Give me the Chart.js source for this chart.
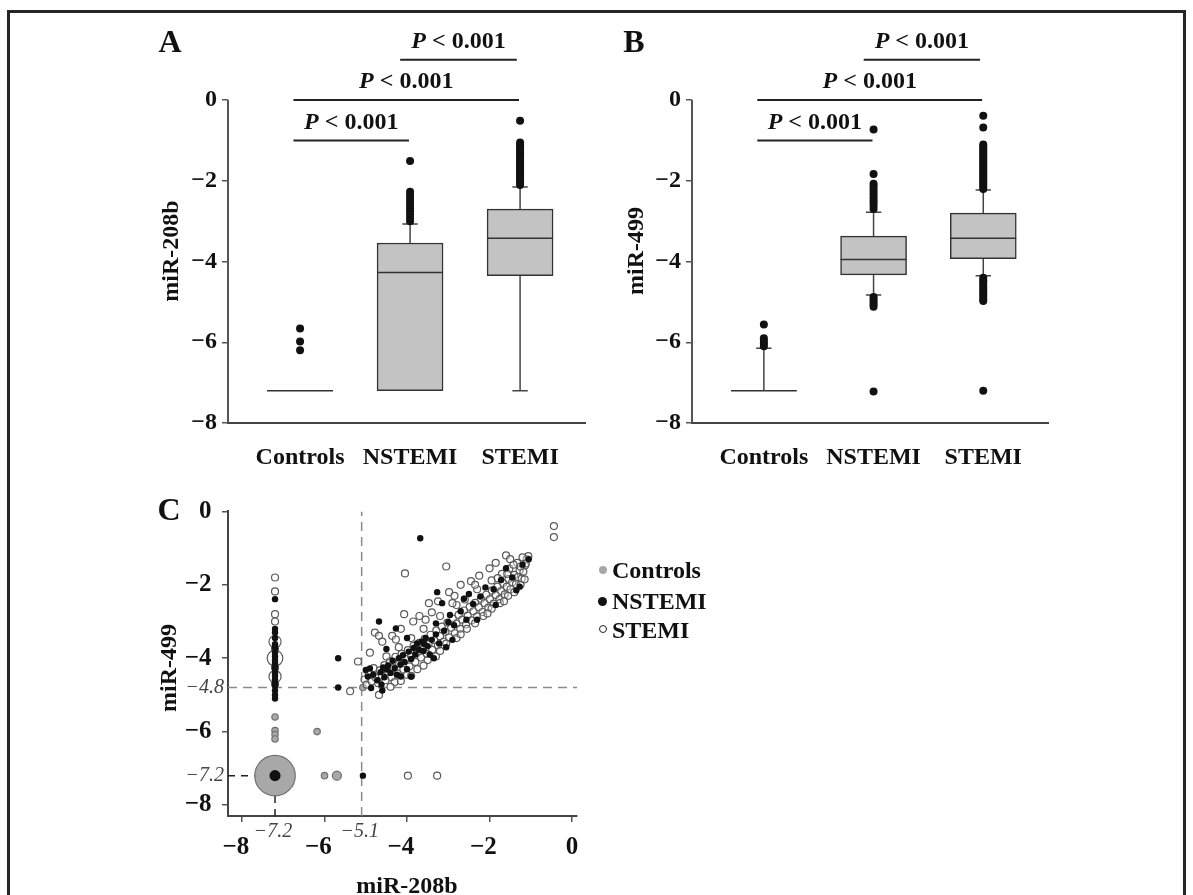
<!DOCTYPE html>
<html>
<head>
<meta charset="utf-8">
<script src="https://cdn.jsdelivr.net/npm/chart.js@4/dist/chart.umd.min.js"></script>
<style>
  html,body{margin:0;padding:0;background:#fff;}
  body{width:1193px;height:895px;overflow:hidden;position:relative;font-family:"Liberation Serif","Times New Roman",serif;color:#111;}
  .frame{position:absolute;left:7px;top:10px;width:1173px;height:1000px;border:3px solid #262626;border-bottom:none;}
  canvas{position:absolute;}
  .t{position:absolute;font-weight:bold;line-height:1;white-space:nowrap;transform:translate(-50%,-50%);}
  .rot{transform:translate(-50%,-50%) rotate(-90deg);}
  .leg{position:absolute;font-weight:bold;font-size:24px;line-height:1;white-space:nowrap;transform:translateY(-50%);}
  .mk{position:absolute;border-radius:50%;box-sizing:border-box;}
</style>
</head>
<body>
<div class="frame"></div>

<canvas id="cA" width="460" height="500" style="left:140px;top:0px"></canvas>
<canvas id="cB" width="460" height="500" style="left:604px;top:0px"></canvas>
<canvas id="cC" width="460" height="405" style="left:140px;top:490px"></canvas>

<div class="t" style="left:170px;top:41px;font-size:32px">A</div>
<div class="t" style="left:634px;top:41px;font-size:32px">B</div>
<div class="t" style="left:169px;top:509px;font-size:32px">C</div>

<div class="t rot" style="left:170px;top:251px;font-size:24px">miR-208b</div>
<div class="t rot" style="left:635px;top:251px;font-size:24px">miR-499</div>
<div class="t rot" style="left:168px;top:668px;font-size:24px">miR-499</div>
<div class="t" style="left:407px;top:885px;font-size:24px">miR-208b</div>

<div class="mk" style="left:599px;top:566px;width:8px;height:8px;background:#a8a8a8;"></div>
<div class="leg" style="left:612px;top:570px">Controls</div>
<div class="mk" style="left:598px;top:597px;width:9px;height:9px;background:#111;"></div>
<div class="leg" style="left:612px;top:601px">NSTEMI</div>
<div class="mk" style="left:599px;top:625px;width:8px;height:8px;border:1.5px solid #222;background:#fff;"></div>
<div class="leg" style="left:612px;top:630px">STEMI</div>

<script>
// ================= DATA =================
const groups = ["Controls", "NSTEMI", "STEMI"];
const groupPos = [1, 2, 3];
const boxYTicks = [0, -2, -4, -6, -8];

// Significance brackets (shared layout in A and B)
const sigFrom  = [0.94, 0.94, 1.91];
const sigTo    = [1.99, 2.99, 2.97];
const sigLevel = [-1.0, 0.0, 1.0];
const sigLabel = [" < 0.001", " < 0.001", " < 0.001"];

// Panel A: miR-208b
const a_q1          = [-7.2, -7.2,  -4.35];
const a_median      = [-7.2, -4.27, -3.42];
const a_q3          = [-7.2, -3.54, -2.70];
const a_whiskerLow  = [-7.2, -7.2,  -7.2];
const a_whiskerHigh = [-7.2, -3.07, -2.15];
const a_outControls = [-5.66, -5.98, -6.2];
const a_outNSTEMI   = [-1.51, -2.27, -2.35, -2.44, -2.52, -2.6, -2.68, -2.76, -2.84, -2.92, -3.0];
const a_outSTEMI    = [-0.51, -1.05, -1.1, -1.15, -1.2, -1.25, -1.3, -1.35, -1.4, -1.45, -1.5, -1.55,
                       -1.6, -1.65, -1.7, -1.75, -1.8, -1.85, -1.9, -1.95, -2.0, -2.05, -2.1];

// Panel B: miR-499
const b_q1          = [-7.2,  -4.33, -3.93];
const b_median      = [-7.2,  -3.95, -3.42];
const b_q3          = [-7.2,  -3.37, -2.80];
const b_whiskerLow  = [-7.2,  -4.83, -4.35];
const b_whiskerHigh = [-6.15, -2.78, -2.23];
const b_outControls = [-5.56, -5.9, -5.97, -6.03, -6.1];
const b_outNSTEMI   = [-0.73, -1.83, -2.07, -2.13, -2.2, -2.27, -2.34, -2.41, -2.48, -2.55, -2.62, -2.7,
                       -4.88, -4.94, -5.0, -5.06, -5.12, -7.22];
const b_outSTEMI    = [-0.39, -0.68, -1.1, -1.15, -1.2, -1.25, -1.3, -1.35, -1.4, -1.45, -1.5, -1.55, -1.6,
                       -1.65, -1.7, -1.75, -1.8, -1.85, -1.9, -1.95, -2.0, -2.05, -2.1, -2.15, -2.2,
                       -4.4, -4.46, -4.52, -4.58, -4.64, -4.7, -4.76, -4.82, -4.88, -4.94, -4.98, -7.2];

// Panel C: scatter miR-208b (x) vs miR-499 (y)
const cXTicks = [-8, -6, -4, -2, 0];
const cYTicks = [0, -2, -4, -4.8, -6, -7.2, -8];
const cCutX = -5.1;
const cCutY = -4.8;
const cFloor = -7.2;
const cXItalic = [-7.2, -5.1];
const cYItalic = [-4.8, -7.2];

const cControls  = [[-7.2,-5.6],[-7.2,-5.97],[-7.2,-6.08],[-7.2,-6.2],[-6.18,-6.0],[-6.0,-7.2],[-5.07,-4.8],[-5.7,-7.2],[-7.2,-7.2]];
const cControlsN = [1,1,1,1,1,1,1,2,40];

const cNstemi = [
  [-7.2,-2.39],[-7.2,-3.2],[-7.2,-3.3],[-7.2,-3.45],[-7.2,-3.62],[-7.2,-3.72],[-7.2,-3.85],[-7.2,-3.95],
  [-7.2,-4.05],[-7.2,-4.12],[-7.2,-4.22],[-7.2,-4.3],[-7.2,-4.4],[-7.2,-4.48],[-7.2,-4.58],[-7.2,-4.66],
  [-7.2,-4.75],[-7.2,-4.88],[-7.2,-5.0],[-7.2,-5.1],[-7.2,-7.2],
  [-5.67,-4.0],[-5.67,-4.8],[-5.07,-7.2],[-3.68,-0.73],[-4.68,-3.0],[-4.27,-3.19],[-3.27,-2.2],[-3.15,-2.5],
  [-1.45,-1.8],[-1.27,-2.05],[-5.0,-4.32],[-4.95,-4.5],[-4.9,-4.28],[-4.87,-4.81],[-4.82,-4.45],[-4.72,-4.6],
  [-4.64,-4.38],[-4.58,-4.25],[-4.55,-4.52],[-4.49,-4.31],[-4.46,-4.2],[-4.4,-4.4],[-4.35,-4.07],[-4.3,-4.27],
  [-4.24,-4.45],[-4.2,-4.0],[-4.16,-4.17],[-4.1,-3.92],[-4.06,-4.1],[-4.0,-4.3],[-3.96,-3.82],[-3.9,-4.02],
  [-3.84,-3.72],[-3.8,-3.9],[-3.76,-3.6],[-3.71,-3.77],[-3.65,-3.55],[-3.6,-3.8],[-3.55,-3.45],[-3.5,-3.67],
  [-3.45,-3.9],[-3.4,-3.5],[-3.3,-3.35],[-3.22,-3.6],[-3.1,-3.25],[-3.0,-3.02],[-2.96,-2.82],[-2.86,-3.1],
  [-2.7,-2.72],[-2.56,-2.95],[-2.4,-2.52],[-2.22,-2.32],[-2.1,-2.07],[-1.9,-2.12],[-1.72,-1.87],[-1.2,-1.45],
  [-4.62,-4.72],[-4.15,-4.5],[-3.58,-3.62],[-2.62,-2.38],
  [-4.5,-3.75],[-4.0,-3.45],[-3.3,-3.05],[-2.5,-2.25],[-1.6,-1.55],[-3.9,-4.5],[-3.35,-4.0],[-2.9,-3.5],
  [-2.3,-2.95],[-1.85,-2.55],[-1.35,-2.15],[-4.6,-4.88],[-3.05,-3.7],[-1.05,-1.3]
];
const cNstemiN = [1,1,1,1,1,1,1,1,1,1,1,1,1,1,1,1,1,1,1,1,3];

const cStemi = [
  [-7.2,-1.8],[-7.2,-2.18],[-7.2,-2.8],[-7.2,-3.0],[-7.2,-3.55],[-7.2,-3.75],[-7.2,-4.0],[-7.2,-4.25],[-7.2,-4.5],[-7.2,-4.7],
  [-5.19,-4.09],[-5.38,-4.9],[-4.68,-5.0],[-3.98,-7.2],[-3.27,-7.2],[-0.44,-0.4],[-0.44,-0.7],[-4.05,-1.69],
  [-3.05,-1.5],[-2.98,-2.2],[-3.47,-2.5],[-4.07,-2.8],[-4.78,-3.3],[-4.68,-3.39],[-4.36,-3.39],[-4.27,-3.49],
  [-5.03,-4.58],[-4.98,-4.72],[-4.93,-4.41],[-4.86,-4.63],[-4.81,-4.27],[-4.77,-4.52],[-4.7,-4.68],[-4.66,-4.33],
  [-4.61,-4.47],[-4.55,-4.19],[-4.52,-4.6],[-4.47,-4.36],[-4.41,-4.08],[-4.38,-4.52],[-4.33,-4.27],[-4.28,-3.96],
  [-4.22,-4.42],[-4.19,-4.15],[-4.13,-3.88],[-4.09,-4.31],[-4.04,-4.02],[-3.98,-3.78],[-3.94,-4.22],[-3.9,-3.95],
  [-3.84,-3.66],[-3.8,-4.1],[-3.76,-3.86],[-3.7,-3.58],[-3.66,-3.98],[-3.61,-3.74],[-3.57,-3.47],[-3.52,-3.88],
  [-3.48,-3.62],[-3.43,-3.36],[-3.39,-3.77],[-3.34,-3.51],[-3.29,-3.24],[-3.25,-3.65],[-3.2,-3.4],[-3.16,-3.14],
  [-3.11,-3.55],[-3.07,-3.28],[-3.02,-3.03],[-2.98,-3.43],[-2.93,-3.17],[-2.89,-2.92],[-2.84,-3.32],[-2.8,-3.06],
  [-2.75,-2.82],[-2.71,-3.2],[-2.66,-2.95],[-2.62,-2.7],[-2.57,-3.08],[-2.53,-2.84],[-2.48,-2.6],[-2.44,-2.97],
  [-2.39,-2.72],[-2.35,-2.49],[-2.3,-2.86],[-2.26,-2.61],[-2.21,-2.38],[-2.17,-2.74],[-2.12,-2.5],[-2.08,-2.27],
  [-2.03,-2.62],[-1.99,-2.39],[-1.94,-2.16],[-1.9,-2.51],[-1.85,-2.28],[-1.81,-2.05],[-1.76,-2.39],[-1.72,-2.17],
  [-1.67,-1.95],[-1.63,-2.26],[-1.58,-2.05],[-1.54,-1.84],[-1.49,-2.12],[-1.45,-1.93],[-1.4,-1.73],[-1.36,-1.98],
  [-1.31,-1.79],[-1.27,-1.6],[-1.22,-1.83],[-1.18,-1.64],[-1.14,-1.47],[-1.1,-1.3],[-1.06,-1.22],[-1.2,-1.25],
  [-1.33,-1.4],[-1.52,-1.56],[-1.7,-1.7],[-1.95,-1.88],[-2.3,-2.12],[-2.6,-2.4],[-2.8,-2.55],[-3.2,-2.85],
  [-3.6,-3.2],[-3.9,-3.45],[-4.2,-3.7],[-4.5,-3.95],[-1.12,-1.42],[-1.25,-1.5],[-1.42,-1.45],[-1.57,-1.7],[-1.8,-1.82],
  [-4.9,-3.85],[-4.6,-3.55],[-4.15,-3.2],[-3.85,-3.0],[-3.7,-2.85],[-3.4,-2.75],[-3.25,-2.45],[-2.85,-2.3],
  [-2.7,-2.0],[-2.45,-1.9],[-2.25,-1.75],[-2.0,-1.55],[-1.85,-1.4],[-1.6,-1.2],[-1.5,-1.3],[-3.55,-2.95],
  [-2.35,-2.0],[-2.9,-2.5],[-4.3,-4.65],[-4.0,-4.45],[-3.75,-4.3],[-3.5,-4.05],[-3.3,-3.95],[-3.05,-3.6],
  [-2.8,-3.45],[-2.55,-3.2],[-2.35,-3.05],[-2.15,-2.85],[-1.95,-2.65],[-1.75,-2.5],[-1.55,-2.3],[-1.4,-2.2],
  [-1.25,-2.0],[-1.15,-1.85],[-1.65,-2.45],[-2.05,-2.78],[-2.7,-3.35],[-3.2,-3.8],[-3.6,-4.2],[-4.4,-4.78],
  [-4.15,-4.62],[-3.9,-4.48]
];
const cStemiN = [1,1,1,1,3,1,5,1,3,1];

// ================= HELPERS =================
const SERIF = '"Liberation Serif", "Times New Roman", serif';
const MINUS = '\u2212';
const NB2 = '\u00a0\u00a0';
function fmt(v){ return v < 0 ? MINUS + String(Math.abs(v)) : String(v); }

function sigTextPlugin(){
  return {
    id: 'sigText',
    afterDatasetsDraw(chart){
      const {ctx} = chart; const x = chart.scales.x, y = chart.scales.y;
      ctx.save();
      ctx.fillStyle = '#111'; ctx.textBaseline = 'middle'; ctx.textAlign = 'left';
      const f1 = 'italic bold 24px ' + SERIF, f2 = 'bold 24px ' + SERIF;
      sigLevel.forEach((lv, k) => {
        const cx = (x.getPixelForValue(sigFrom[k]) + x.getPixelForValue(sigTo[k])) / 2;
        const cy = y.getPixelForValue(lv) - 18;
        ctx.font = f1; const w1 = ctx.measureText('P').width;
        ctx.font = f2; const w2 = ctx.measureText(sigLabel[k]).width;
        const sx = cx - (w1 + w2) / 2;
        ctx.font = f1; ctx.fillText('P', sx, cy);
        ctx.font = f2; ctx.fillText(sigLabel[k], sx + w1, cy);
      });
      ctx.restore();
    }
  };
}

function boxChart(id, d, padRight){
  const xMin = 0.345, xMax = 3.59, yMin = -8, yMax = 2;
  const half = 0.3, cap = 0.07;
  const boxes = [], medians = [], whisk = [], outs = [];
  groupPos.forEach((p, i) => {
    if (d.q3[i] > d.q1[i]) boxes.push({x: p, y: [d.q1[i], d.q3[i]]});
    medians.push({x: p - half, y: d.median[i]}, {x: p + half, y: d.median[i]}, {x: p, y: null});
    if (d.whiskerHigh[i] > d.q3[i]) {
      whisk.push({x: p, y: d.q3[i]}, {x: p, y: d.whiskerHigh[i]}, {x: p, y: null},
                 {x: p - cap, y: d.whiskerHigh[i]}, {x: p + cap, y: d.whiskerHigh[i]}, {x: p, y: null});
    }
    if (d.whiskerLow[i] < d.q1[i]) {
      whisk.push({x: p, y: d.q1[i]}, {x: p, y: d.whiskerLow[i]}, {x: p, y: null},
                 {x: p - cap, y: d.whiskerLow[i]}, {x: p + cap, y: d.whiskerLow[i]}, {x: p, y: null});
    }
    d.outliers[i].forEach(v => outs.push({x: p, y: v}));
  });
  const sig = [];
  sigLevel.forEach((lv, k) => sig.push({x: sigFrom[k], y: lv}, {x: sigTo[k], y: lv}, {x: sigFrom[k], y: null}));
  const axisPts = [{x: xMin, y: Math.max(...boxYTicks)}, {x: xMin, y: Math.min(...boxYTicks)}];

  new Chart(document.getElementById(id), {
    type: 'scatter',
    data: { datasets: [
      {type: 'scatter', data: outs, pointRadius: 4, pointBackgroundColor: '#111', pointBorderWidth: 0, clip: false},
      {type: 'line', data: medians, borderColor: '#333', borderWidth: 1.5, pointRadius: 0, spanGaps: false, clip: false},
      {type: 'line', data: whisk, borderColor: '#444', borderWidth: 1.5, pointRadius: 0, spanGaps: false, clip: false},
      {type: 'line', data: sig, borderColor: '#222', borderWidth: 2, pointRadius: 0, spanGaps: false, clip: false},
      {type: 'line', data: axisPts, borderColor: '#555', borderWidth: 2, pointRadius: 0, clip: false},
      {type: 'bar', data: boxes, backgroundColor: '#c3c3c3', borderColor: '#333', borderWidth: 1.5,
       borderSkipped: false, barThickness: 66, grouped: false}
    ]},
    options: {
      responsive: false, animation: false, events: [],
      layout: {padding: {left: 0, top: 13, right: padRight, bottom: 0}},
      plugins: {legend: {display: false}, tooltip: {enabled: false}},
      scales: {
        x: {type: 'linear', min: xMin, max: xMax, offset: false,
            grid: {display: false, drawTicks: false},
            border: {display: true, color: '#444', width: 2},
            afterBuildTicks: s => { s.ticks = groupPos.map(v => ({value: v})); },
            ticks: {callback: v => groups[groupPos.indexOf(v)], font: {family: SERIF, size: 24, weight: 'bold'},
                    color: '#111', padding: 20, maxRotation: 0, autoSkip: false},
            afterFit: s => { s.height = 77; }},
        y: {type: 'linear', min: yMin, max: yMax,
            grid: {display: true, drawOnChartArea: false, drawTicks: true, tickLength: 6, color: '#555', lineWidth: 1.5},
            border: {display: false},
            afterBuildTicks: s => { s.ticks = boxYTicks.map(v => ({value: v})); },
            ticks: {callback: v => fmt(v), font: {family: SERIF, size: 24, weight: 'bold'}, color: '#111', padding: 5, autoSkip: false},
            afterFit: s => { s.width = 88; }}
      }
    },
    plugins: [sigTextPlugin()]
  });
}

boxChart('cA', {q1: a_q1, median: a_median, q3: a_q3, whiskerLow: a_whiskerLow, whiskerHigh: a_whiskerHigh,
                outliers: [a_outControls, a_outNSTEMI, a_outSTEMI]}, 15);
boxChart('cB', {q1: b_q1, median: b_median, q3: b_q3, whiskerLow: b_whiskerLow, whiskerHigh: b_whiskerHigh,
                outliers: [b_outControls, b_outNSTEMI, b_outSTEMI]}, 16);

// ================= PANEL C =================
(function(){
  const xMin = -8.34, xMax = 0.12, yMin = -8.3, yMax = 0;
  const toPts = (arr, counts) => arr.map((p, i) => ({x: p[0], y: p[1], n: (counts && counts[i]) || 1}));
  const rad = base => c => base * Math.sqrt((c.raw && c.raw.n) || 1);
  const italicSet = new Set(cYItalic);

  const xItalicPlugin = {
    id: 'xItalic',
    afterDraw(chart){
      const {ctx} = chart; const x = chart.scales.x;
      ctx.save();
      ctx.font = 'italic 20px ' + SERIF; ctx.fillStyle = '#444';
      ctx.textAlign = 'center'; ctx.textBaseline = 'middle';
      cXItalic.forEach(v => ctx.fillText(fmt(v), x.getPixelForValue(v) - 2, chart.chartArea.bottom + 16));
      ctx.restore();
    }
  };

  new Chart(document.getElementById('cC'), {
    type: 'scatter',
    data: { datasets: [
      {data: toPts(cNstemi, cNstemiN), pointRadius: rad(3.2), pointBackgroundColor: '#111', pointBorderColor: '#111', pointBorderWidth: 0},
      {data: toPts(cStemi, cStemiN), pointRadius: rad(3.5), pointBackgroundColor: 'rgba(255,255,255,0.35)', pointBorderColor: '#5a5a5a', pointBorderWidth: 1.2},
      {data: toPts(cControls, cControlsN), pointRadius: rad(3.2), pointBackgroundColor: '#a8a8a8', pointBorderColor: '#707070', pointBorderWidth: 1.2},
      {type: 'line', data: [{x: xMin, y: cFloor}, {x: cFloor, y: cFloor}, {x: cFloor, y: null}, {x: cFloor, y: yMin}, {x: cFloor, y: cFloor}],
       borderColor: '#222', borderWidth: 1.5, borderDash: [7, 6], pointRadius: 0, spanGaps: false},
      {type: 'line', data: [{x: cCutX, y: yMin}, {x: cCutX, y: yMax}, {x: cCutX, y: null}, {x: xMin, y: cCutY}, {x: xMax, y: cCutY}],
       borderColor: '#8a8a8a', borderWidth: 1.5, borderDash: [9, 6], pointRadius: 0, spanGaps: false}
    ]},
    options: {
      responsive: false, animation: false, events: [],
      layout: {padding: {left: 0, top: 18, right: 23, bottom: 0}},
      plugins: {legend: {display: false}, tooltip: {enabled: false}},
      scales: {
        x: {type: 'linear', min: xMin, max: xMax,
            grid: {display: true, drawOnChartArea: false, drawTicks: true, tickLength: 6, color: '#555', lineWidth: 1.5},
            border: {display: true, color: '#444', width: 2},
            afterBuildTicks: s => { s.ticks = cXTicks.map(v => ({value: v})); },
            ticks: {callback: v => v < 0 ? fmt(v) + NB2 : fmt(v), font: {family: SERIF, size: 25, weight: 'bold'},
                    color: '#111', padding: 11, maxRotation: 0, autoSkip: false},
            afterFit: s => { s.height = 79; }},
        y: {type: 'linear', min: yMin, max: yMax,
            grid: {display: true, drawOnChartArea: false, drawTicks: true, tickLength: 6, lineWidth: 1.5,
                   color: c => (c.tick && italicSet.has(c.tick.value)) ? 'rgba(0,0,0,0)' : '#555'},
            border: {display: true, color: '#444', width: 2},
            afterBuildTicks: s => { s.ticks = cYTicks.map(v => ({value: v})); },
            ticks: {
              callback: v => italicSet.has(v) ? fmt(v) : fmt(v) + NB2,
              font: c => (c.tick && italicSet.has(c.tick.value))
                ? {family: SERIF, size: 20, style: 'italic', weight: 'normal'}
                : {family: SERIF, size: 25, weight: 'bold'},
              color: c => (c.tick && italicSet.has(c.tick.value)) ? '#444' : '#111',
              padding: -2, autoSkip: false},
            afterFit: s => { s.width = 88; }}
      }
    },
    plugins: [xItalicPlugin]
  });
})();
</script>
</body>
</html>
